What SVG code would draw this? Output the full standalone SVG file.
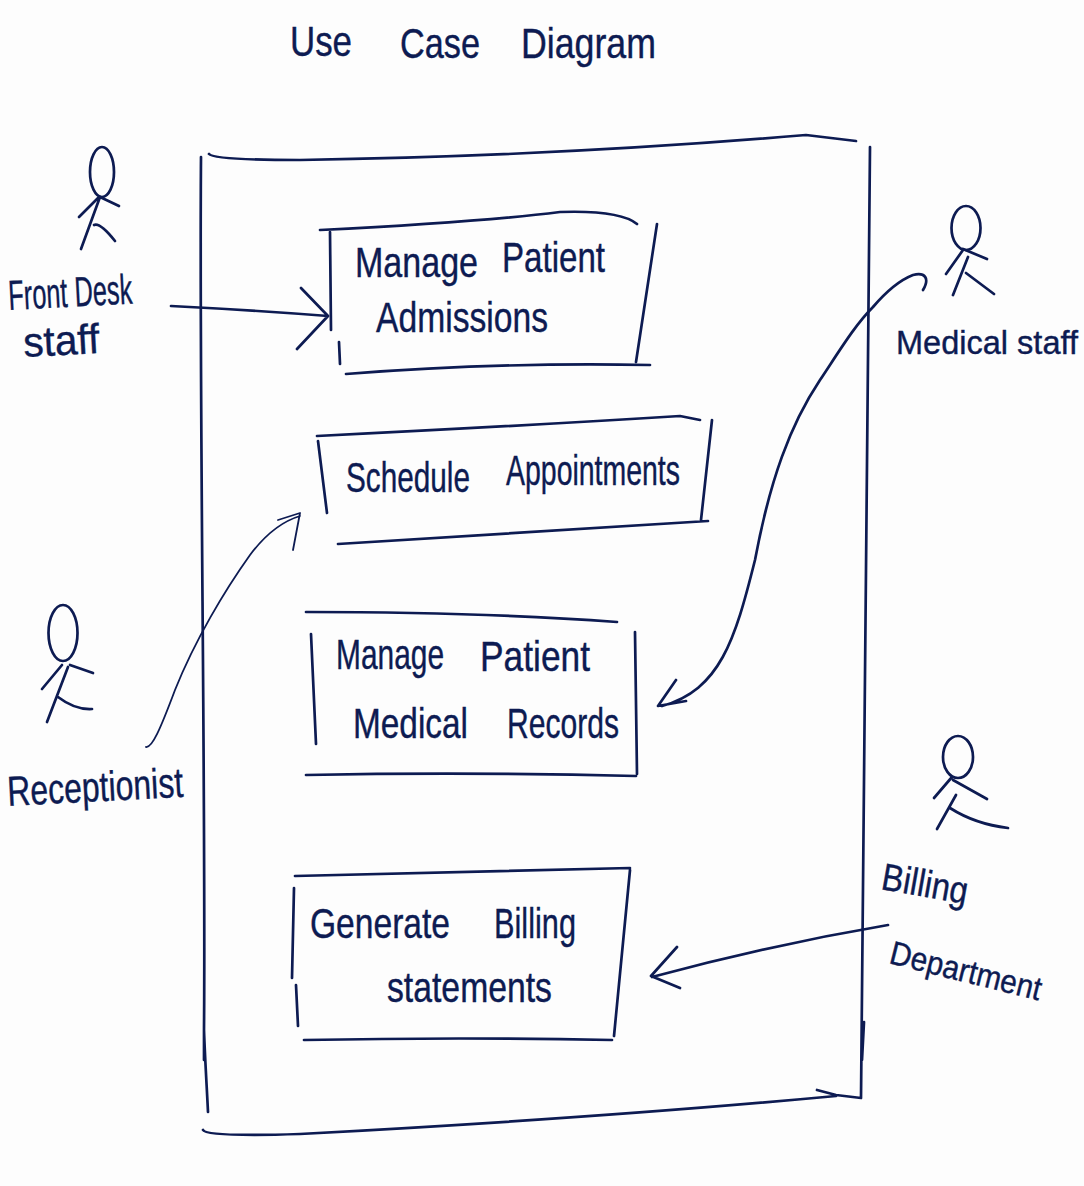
<svg xmlns="http://www.w3.org/2000/svg" width="1084" height="1186" viewBox="0 0 1084 1186">
<style>
.s{fill:none;stroke:#0d1b52;stroke-width:2.7;stroke-linecap:round;stroke-linejoin:round}
.n{stroke-width:1.8}
.t{fill:#0d1b52;font-family:"Liberation Sans",sans-serif;font-size:42px;stroke:#0d1b52;stroke-width:.4}
.m{font-size:38px}
.r{font-size:33px}
</style>
<rect width="1084" height="1186" fill="#fdfdfd"/>
<g id="title"><text class="t" x="290" y="56" textLength="62" lengthAdjust="spacingAndGlyphs">Use</text><text class="t" x="400" y="58" textLength="80" lengthAdjust="spacingAndGlyphs">Case</text><text class="t" x="521" y="58" textLength="135" lengthAdjust="spacingAndGlyphs">Diagram</text></g>
<g id="system"><path class="s" d="M209 154Q214 160 300 160Q560 156 806 135M806 135L856 141M201 157C199 400 206 800 204 1030C205 1060 207 1090 208 1112M204 1030L204 1060M870 147C869 500 866 800 861 1098M864 1022L862 1060M203 1130Q206 1137 300 1134Q600 1118 836 1096M817 1090L836 1095L861 1098"/></g>
<g id="actor-front-desk"><ellipse class="s" cx="102" cy="172" rx="12" ry="25"/><path class="s" d="M100 197L81 249M99 197L79 217M100 197L119 206M94 225Q100 222 115 241"/><text class="t" x="9" y="310" textLength="124" lengthAdjust="spacingAndGlyphs" transform="rotate(-3 9 310)">Front Desk</text><text class="t" x="24" y="357" textLength="76" lengthAdjust="spacingAndGlyphs" transform="rotate(-3 24 357)">staff</text></g>
<g id="actor-receptionist"><ellipse class="s" cx="63" cy="633" rx="14.500" ry="28"/><path class="s" d="M62 665L42 689M70 665L93 673M68 667L47 722M58 697Q75 710 92 709"/><text class="t" x="8" y="806" textLength="176" lengthAdjust="spacingAndGlyphs" transform="rotate(-3 8 806)">Receptionist</text></g>
<g id="actor-medical"><ellipse class="s" cx="966" cy="228" rx="14.500" ry="22"/><path class="s" d="M963 250L946 274M963 249L987 259M968 257L953 295M966 273L994 294"/><text class="t r" x="896" y="354" textLength="182" lengthAdjust="spacingAndGlyphs">Medical staff</text></g>
<g id="actor-billing"><ellipse class="s" cx="958" cy="757" rx="15" ry="21"/><path class="s" d="M952 777L934 798M953 780L987 799M956 795L937 829M950 808Q975 824 1008 828"/><text class="t m" x="880" y="889" textLength="87" lengthAdjust="spacingAndGlyphs" transform="rotate(10 880 889)">Billing</text><text class="t r" x="888" y="963" textLength="155" lengthAdjust="spacingAndGlyphs" transform="rotate(14 888 963)">Department</text></g>
<g id="uc-admissions"><path class="s" d="M320 230Q480 222 560 212Q620 210 637 224M330 232L331 330M339 342L340 364M657 224L636 362M346 374Q500 362 650 365"/><text class="t" x="355" y="277" textLength="123" lengthAdjust="spacingAndGlyphs">Manage</text><text class="t" x="502" y="272" textLength="103" lengthAdjust="spacingAndGlyphs">Patient</text><text class="t" x="376" y="332" textLength="172" lengthAdjust="spacingAndGlyphs">Admissions</text></g>
<g id="uc-schedule"><path class="s" d="M317 436Q520 426 680 416L700 420M318 441L327 513M712 420L701 520M338 544Q520 532 708 521"/><text class="t" x="346" y="492" textLength="124" lengthAdjust="spacingAndGlyphs">Schedule</text><text class="t" x="506" y="485" textLength="174" lengthAdjust="spacingAndGlyphs">Appointments</text></g>
<g id="uc-records"><path class="s" d="M306 612Q480 612 617 622M311 634L316 744M635 632L637 774M306 775Q470 772 636 776"/><text class="t" x="336" y="669" textLength="108" lengthAdjust="spacingAndGlyphs">Manage</text><text class="t" x="480" y="671" textLength="110" lengthAdjust="spacingAndGlyphs">Patient</text><text class="t" x="353" y="738" textLength="115" lengthAdjust="spacingAndGlyphs">Medical</text><text class="t" x="507" y="738" textLength="112" lengthAdjust="spacingAndGlyphs">Records</text></g>
<g id="uc-billing"><path class="s" d="M295 876Q460 872 630 868M294 888L292 978M296 985L298 1026M630 870L614 1036M304 1040Q460 1037 612 1040"/><text class="t" x="310" y="938" textLength="140" lengthAdjust="spacingAndGlyphs">Generate</text><text class="t" x="494" y="938" textLength="82" lengthAdjust="spacingAndGlyphs">Billing</text><text class="t" x="387" y="1002" textLength="165" lengthAdjust="spacingAndGlyphs">statements</text></g>
<g id="connectors"><path class="s" d="M171 306Q250 310 328 316M301 288L328 316L297 349"/><path class="s n" d="M146 747C152 748 160 730 175 690C195 640 225 590 250 555C265 535 280 522 300 516M278 520L300 513L293 550"/><path class="s" d="M923 290C930 278 925 272 913 275C900 280 885 293 873 307C855 325 840 350 820 380C790 425 770 480 755 560C735 640 720 690 662 706M676 680L658 706L686 701"/><path class="s" d="M888 925Q770 945 652 977M677 947L651 976L680 988"/></g>
</svg>
